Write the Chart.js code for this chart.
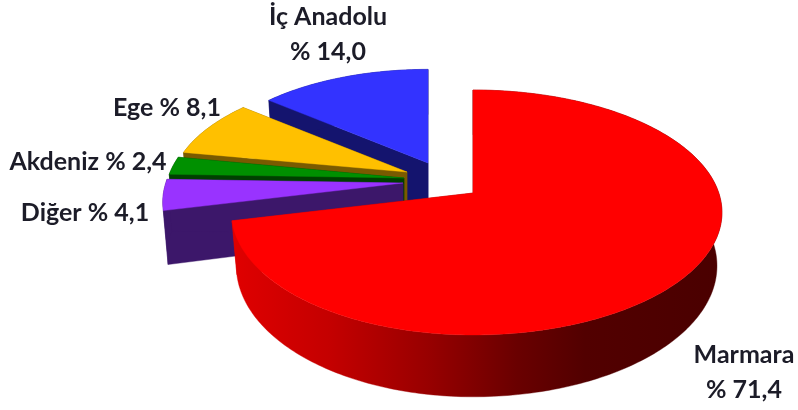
<!DOCTYPE html>
<html><head><meta charset="utf-8">
<style>html,body{margin:0;padding:0;background:#fff}#w{width:798px;height:410px}canvas{filter:blur(0.45px)}</style>
<script src="https://cdn.jsdelivr.net/npm/chart.js@4"></script></head>
<body><div id="w"><canvas id="c" width="798" height="410"></canvas></div>
<script>
const regions = ['Marmara','Diğer','Akdeniz','Ege','İç Anadolu'];
const shares = [71.4,4.1,2.4,8.1,14.0];
const topColors = ['#ff0000','#9933ff','#009000','#ffc000','#3333ff'];
const sideColors = ['#6e0000','#3c176a','#004000','#7a5a00','#14146e'];
const labelLines = [['Marmara','% 71,4'],['Diğer % 4,1'],['Akdeniz % 2,4'],['Ege % 8,1'],['İç Anadolu','% 14,0']];

// layout of the exploded 3D slices (pixels)
const origins = [[473,193],[403,183],[404,178],[407,172],[428,163]];
const radiusScale = [1,0.995,0.99,0.98,0.95];
const heightScale = [1,1,1,0.95,0.95];
const labelPos = [[[744,355],[744,390]],[[85,213]],[[88,162]],[[167,108]],[[328,17],[328,52]]];
const K=0.159,F=245.8,G=119.4,DEPTH=52,LEFT=0.97,BOTTOM=0.98;

function project(o,r,h,theta,low){
  const s=Math.sin(theta)*r,z=Math.cos(theta)*r,den=1+K*z;
  let x=F*s/den; if(x<0)x*=LEFT; if(low)x*=BOTTOM;
  return [o[0]+x,o[1]-h*G*z/den+(low?DEPTH/den:0)];
}
function poly(ctx,pts,fill){
  ctx.beginPath();pts.forEach((p,i)=>i?ctx.lineTo(p[0],p[1]):ctx.moveTo(p[0],p[1]));ctx.closePath();
  ctx.fillStyle=fill;ctx.fill();ctx.strokeStyle=fill;ctx.lineWidth=0.4;ctx.stroke();
}
const pie3d={id:'pie3d',
  beforeDatasetDraw(chart,args){
    const ctx=chart.ctx,arcs=args.meta.data;
    [4,3,2,1,0].forEach(i=>{
      const a=arcs[i],o=origins[i],r=radiusScale[i],h=heightScale[i];
      const t0=a.startAngle+Math.PI/2,t1=a.endAngle+Math.PI/2,n=Math.max(8,Math.round((t1-t0)*60));
      const top=[],low=[];
      for(let j=0;j<=n;j++){const t=t0+(t1-t0)*j/n;top.push(project(o,r,h,t,false));low.push(project(o,r,h,t,true));}
      const apex=[o[0],o[1]],apexLow=[o[0],o[1]+DEPTH];
      let side=sideColors[i];
      if(i===0){
        side=ctx.createLinearGradient(232,0,722,0);
        side.addColorStop(0,'#e00000');side.addColorStop(0.2,'#c40000');side.addColorStop(0.4,'#980000');
        side.addColorStop(0.58,'#6a0000');side.addColorStop(0.72,'#520000');side.addColorStop(1,'#4a0000');
      }
      poly(ctx,[apex,top[0],low[0],apexLow],side);
      poly(ctx,[apex,top[n],low[n],apexLow],side);
      poly(ctx,top.concat(low.slice().reverse()),side);
      poly(ctx,[apex].concat(top),topColors[i]);
    });
    return false;
  },
  afterDraw(chart){
    const ctx=chart.ctx;
    ctx.save();ctx.font='bold 25px Lato, "Open Sans", sans-serif';ctx.fillStyle='#1c1c28';ctx.textAlign='center';ctx.textBaseline='middle';
    labelLines.forEach((ls,i)=>ls.forEach((t,j)=>ctx.fillText(t,labelPos[i][j][0],labelPos[i][j][1])));
    ctx.restore();
  }
};
new Chart(document.getElementById('c'),{type:'pie',
  data:{labels:regions,datasets:[{data:shares,backgroundColor:topColors,borderWidth:0}]},
  options:{responsive:false,animation:false,rotation:0,plugins:{legend:{display:false},tooltip:{enabled:false}}},
  plugins:[pie3d]});
</script></body></html>
